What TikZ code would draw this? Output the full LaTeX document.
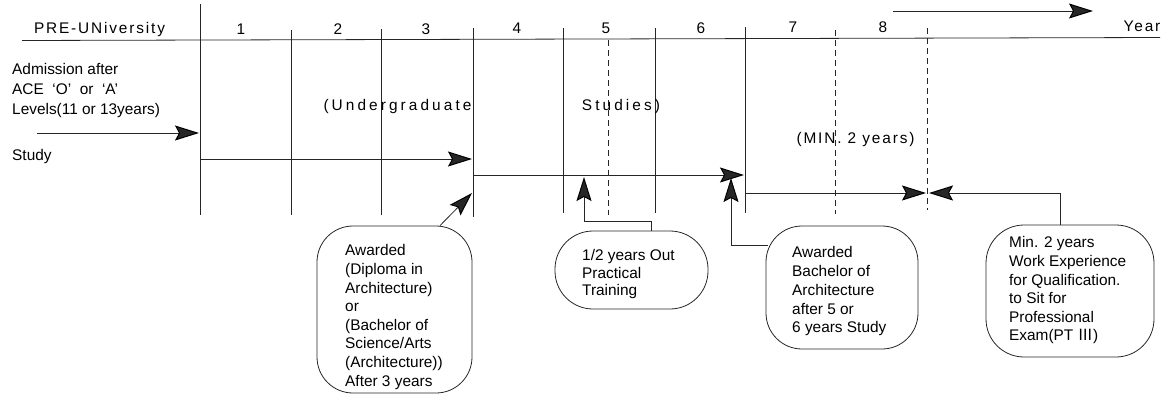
\documentclass[tikz,border=0pt]{standalone}
\usepackage{fontspec}
\setmainfont{Liberation Sans}
\newfontfamily\spaced[LetterSpace=20]{Liberation Sans}
\newfontfamily\hdr[LetterSpace=12]{Liberation Sans}
\newfontfamily\cjk{Noto Sans CJK KR}
\usetikzlibrary{arrows.meta}
\begin{document}
\begin{tikzpicture}[x=1pt,y=-1pt,
  ln/.style={line width=0.8pt, draw=black!85},
  dsh/.style={ln, dash pattern=on 6pt off 4pt},
  arr/.style={ln, -{Stealth[length=24pt 0,width=15pt 0,inset=4pt 0,line width=1pt,color=black,fill=black!85]}},
  box/.style={draw=black!85, line width=0.8pt, rounded corners=36pt, inner sep=0pt},
  txt/.style={font=\fontsize{15.4}{18.6}\selectfont, align=left, inner sep=0pt, anchor=north west},
  hdrtxt/.style={font=\hdr\fontsize{15.4}{18.6}\selectfont, inner sep=0pt},
  sptxt/.style={font=\spaced\fontsize{15.4}{18.6}\selectfont, inner sep=0pt}
]
\useasboundingbox (0,0) rectangle (1162,397);

% header line
\coordinate (hL) at (22,40.5);
\coordinate (hR) at (1160,37.5);
\draw[ln] (hL) -- (hR);

% year columns
\foreach \x/\t/\b in {200/4/215, 291/30/215, 381/29/215, 473/28/217, 563/28/213, 655/28/213, 745/27/213}
  \draw[ln] (\x,\t) -- (\x,\b);
\foreach \x/\t/\b in {608/40/215, 835/30/214, 927/28/210}
  \draw[dsh] (\x,\t) -- (\x,\b);

% header texts
\node[hdrtxt] (pre) at (99.5,29.5) {PRE-UNiversity};
\foreach \n/\x/\y in {1/241/29.5, 2/338/29.5, 3/426/29, 4/517/28.5, 5/606/28.5, 6/701/28, 7/793/27.5, 8/883/27}
  \node[hdrtxt] (yr\n) at (\x,\y) {\n};
\node[hdrtxt] (year) at (1142,26.5) {Year};

% top arrow
\coordinate (t0) at (893,11);
\coordinate (t1) at (1093,11);
\draw[arr] (t0) -- (t1);

% left texts
\node[txt, font=\fontsize{15.4}{20}\selectfont] (adm) at (12,63) {Admission after\\ACE\ \ ‘O’\ \ or\ \ ‘A’\\Levels(11 or 13years)};
\node[txt, anchor=west] (study) at (12,157) {Study};

% middle labels
\node[sptxt] (under) at (397.5,107) {(Undergraduate};
\node[sptxt] (studies) at (621,107) {Studies)};
\node[hdrtxt] (min) at (855.5,140) {(MIN. 2 years)};

% study arrows
\coordinate (s0) at (37,133);   \coordinate (s1) at (199,133);
\coordinate (a2s) at (200,159); \coordinate (a2e) at (472,159);
\coordinate (a3s) at (473,175); \coordinate (a3e) at (744,175);
\coordinate (a4s) at (745,193); \coordinate (a4e) at (926,193);
\coordinate (a5e) at (929,193);
\draw[arr] (s0) -- (s1);
\draw[arr] (a2s) -- (a2e);
\draw[arr] (a3s) -- (a3e);
\draw[arr] (a4s) -- (a4e);

% boxes
\node[box, minimum width=155pt, minimum height=167pt] (b1) at (394.5,309.5) {};
\node[box, rounded corners=38pt, minimum width=153pt, minimum height=78pt] (b2) at (631.5,270) {};
\node[box, minimum width=152pt, minimum height=123pt] (b3) at (842,287.5) {};
\node[box, rounded corners=38pt, minimum width=168pt, minimum height=132pt] (b4) at (1070,291) {};

\node[txt] (t1txt) at (345,244.5) {Awarded\\(Diploma in\\Architecture)\\or\\(Bachelor of\\Science/Arts\\(Architecture))\\After 3 years};
\node[txt, font=\fontsize{15.4}{17.5}\selectfont] (t2txt) at (582,249.5) {1/2 years Out\\Practical\\Training};
\node[txt, font=\fontsize{15.4}{18.75}\selectfont] (t3txt) at (792,246.5) {Awarded\\Bachelor of\\Architecture\\after 5 or\\6 years Study};
\node[txt] (t4txt) at (1009,236.5) {Min. 2 years\\Work Experience\\for Qualification.\\to Sit for\\Professional\\Exam(PT {\cjk Ⅲ})};

% connectors from boxes
\coordinate (d1) at (472,193);
\coordinate (u1) at (584,177);
\coordinate (u2) at (731,178);
\draw[arr] ([xshift=45.5pt]b1.north) -- (d1);
\draw[arr] ([xshift=19.5pt]b2.north) -- ++(0,-9) -| (u1);
\draw[arr] ([shift={(2,-42.5)}]b3.west) -| (u2);
\draw[arr] ([xshift=-10pt]b4.north) |- (a5e);
\end{tikzpicture}
\end{document}
